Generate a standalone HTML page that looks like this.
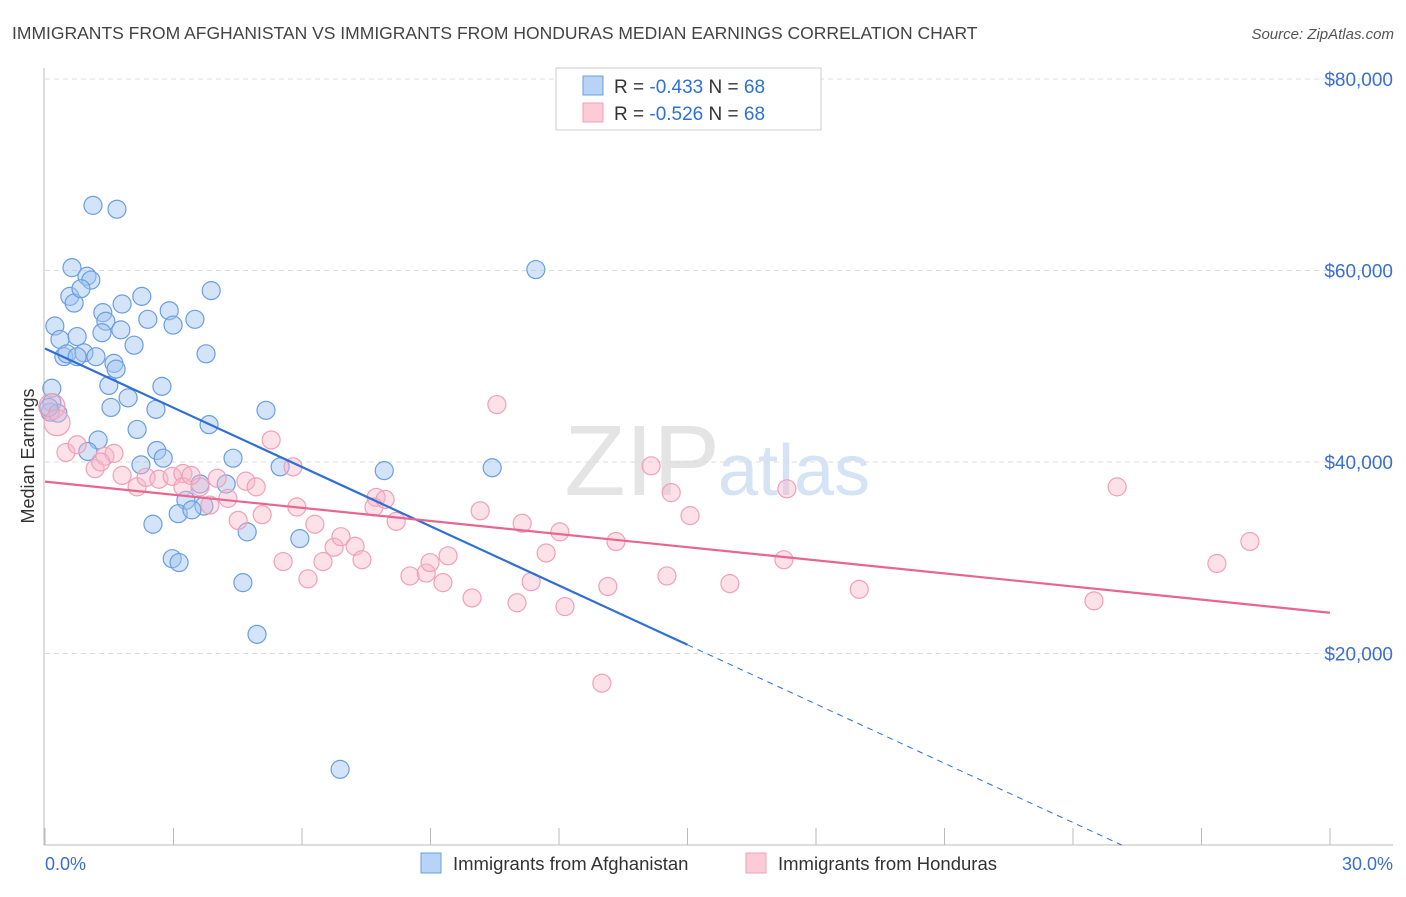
<!DOCTYPE html>
<html><head><meta charset="utf-8"><style>
body{margin:0;background:#fff;font-family:"Liberation Sans",sans-serif}
svg text{font-family:"Liberation Sans",sans-serif}
</style></head><body>
<svg id="c" width="1406" height="892" xmlns="http://www.w3.org/2000/svg">
<text x="12" y="39" font-size="17.5" fill="#444">IMMIGRANTS FROM AFGHANISTAN VS IMMIGRANTS FROM HONDURAS MEDIAN EARNINGS CORRELATION CHART</text>
<text x="1394" y="39" font-size="15" fill="#555" font-style="italic" text-anchor="end">Source: ZipAtlas.com</text>
<text x="720" y="495" font-size="100" fill="#e4e4e4" text-anchor="end" font-family="Liberation Serif">ZIP</text>
<text x="718" y="495" font-size="72" fill="#d5e3f5">atlas</text>
<g id="grid"></g>
<g id="axes"></g>
<g id="pts"></g>
<g id="trend"></g>
<g>
<rect x="556" y="68" width="265" height="62" fill="#fff" stroke="#ccc"/>
<rect x="583" y="76" width="20" height="19" fill="#b8d3f5" stroke="#6a9ee0"/>
<rect x="583" y="103" width="20" height="19" fill="#fbcbd8" stroke="#f0a0b8"/>
<text x="614" y="93" font-size="19" fill="#333">R = <tspan fill="#2f6fd6">-0.433</tspan>    N = <tspan fill="#2f6fd6">68</tspan></text>
<text x="614" y="120" font-size="19" fill="#333">R = <tspan fill="#2f6fd6">-0.526</tspan>    N = <tspan fill="#2f6fd6">68</tspan></text>
</g>
<g>
<rect x="421" y="853" width="20" height="20" fill="#b8d3f5" stroke="#6a9ee0"/>
<text x="453" y="870" font-size="18.5" fill="#333">Immigrants from Afghanistan</text>
<rect x="746" y="853" width="20" height="20" fill="#fbcbd8" stroke="#f0a0b8"/>
<text x="778" y="870" font-size="18.5" fill="#333">Immigrants from Honduras</text>
</g>
<text transform="translate(34,456) rotate(-90)" font-size="18" fill="#333" text-anchor="middle">Median Earnings</text>
<text x="45" y="870" font-size="18" fill="#3a6fd0">0.0%</text>
<text x="1393" y="870" font-size="18" fill="#3a6fd0" text-anchor="end">30.0%</text>
</svg>
<script>
const yTicks=[20000,40000,60000,80000];
const yTickLabels=["$20,000","$40,000","$60,000","$80,000"];
const xTicks=[0,3,6,9,12,15,18,21,24,27,30];
const afgX=[1.12,1.68,0.63,0.98,1.07,0.58,0.68,0.84,2.26,1.80,3.88,1.35,0.23,1.42,1.77,2.40,2.90,2.99,3.50,0.35,1.33,0.75,2.08,0.44,0.51,0.91,0.75,1.19,3.76,1.61,1.66,0.16,1.49,2.73,1.94,1.54,2.59,0.16,0.12,0.30,5.16,3.83,2.15,1.24,2.61,1.00,2.76,4.39,2.24,5.49,7.92,10.44,3.29,3.62,4.23,3.71,3.11,3.43,2.52,4.72,5.95,2.97,3.13,4.62,4.95,6.89,11.46,0.09];
const afgY=[66.8,66.4,60.3,59.4,59.0,57.3,56.6,58.1,57.3,56.5,57.9,55.6,54.2,54.7,53.8,54.9,55.8,54.3,54.9,52.8,53.5,53.1,52.2,51.0,51.3,51.4,51.0,51.0,51.3,50.3,49.7,47.7,48.0,47.9,46.7,45.7,45.5,46.2,45.2,45.1,45.4,43.9,43.4,42.3,41.2,41.1,40.4,40.4,39.7,39.5,39.1,39.4,36.0,37.7,37.7,35.4,34.6,35.0,33.5,32.7,32.0,29.9,29.5,27.4,22.0,7.9,60.1,45.7];
const honX=[0.16,0.28,0.49,0.75,1.17,1.40,1.61,1.80,2.15,2.36,2.66,2.97,3.22,3.22,3.62,4.02,3.85,4.27,4.51,4.69,4.93,5.07,5.28,5.56,5.79,5.88,6.14,6.30,6.49,6.75,6.91,7.24,7.40,7.73,7.68,8.20,8.52,8.90,8.99,9.29,9.41,9.97,10.16,10.55,11.02,11.14,11.35,11.70,12.02,12.14,13.00,13.14,13.33,14.15,14.52,14.62,15.06,15.99,17.25,17.32,19.01,24.49,25.03,27.36,28.13,3.41,7.94,1.30];
const honY=[45.8,44.1,41.0,41.8,39.3,40.6,40.9,38.6,37.4,38.4,38.2,38.5,38.8,37.4,37.4,38.3,35.5,36.2,33.9,38.0,37.4,34.5,42.3,29.6,39.5,35.3,27.8,33.5,29.6,31.1,32.2,31.2,29.8,36.3,35.3,33.8,28.1,28.4,29.5,27.4,30.2,25.8,34.9,46.0,25.3,33.6,27.5,30.5,32.7,24.9,16.9,27.0,31.7,39.6,28.1,36.8,34.4,27.3,29.8,37.2,26.7,25.5,37.4,29.4,31.7,38.6,36.1,40.0];
const afgTrend=[51857,20910]; // at x=0 and x=15
const honTrend=[37951,24256]; // at x=0 and x=30
const NS="http://www.w3.org/2000/svg";
const X=v=>45+v*(1330-45)/30;
const Y=v=>845-v*(845-79)/80000;
function mk(t,a,p){const e=document.createElementNS(NS,t);for(const k in a)e.setAttribute(k,a[k]);document.getElementById(p).appendChild(e);return e;}
yTicks.forEach((t,i)=>{
 const l=mk('line',{x1:45,x2:1393,y1:Y(t),y2:Y(t),stroke:'#ddd','stroke-dasharray':'5,4'},'grid');
 
 
 const tx=mk('text',{x:1393,y:Y(t)+7,'font-size':19,fill:'#3a6fd0','text-anchor':'end'},'grid');
 tx.textContent=yTickLabels[i];
 
 
});
const ax=mk('line',{x1:44,x2:44,y1:68,y2:845,stroke:'#bbb'},'axes');


const bx=mk('line',{x1:44,x2:1393,y1:845,y2:845,stroke:'#bbb'},'axes');


xTicks.forEach(t=>{
 const l=mk('line',{x1:X(t),x2:X(t),y1:828,y2:845,stroke:'#bbb'},'axes');
 
 
});
afgX.forEach((x,i)=>{
 const c=mk('circle',{cx:X(x),cy:Y(afgY[i]*1000),r:9,fill:'rgba(160,196,240,0.45)',stroke:'#6a9ee0','stroke-width':1.2},'pts');
 
 
});
honX.forEach((x,i)=>{
 const c=mk('circle',{cx:X(x),cy:Y(honY[i]*1000),r:(i<2?13:9),fill:'rgba(248,180,200,0.4)',stroke:'#f0a0b8','stroke-width':1.2},'pts');
 
 
});
const slopeA=(afgTrend[1]-afgTrend[0])/15;
const xEnd=-afgTrend[0]/slopeA;
const t1=mk('line',{x1:X(0),y1:Y(afgTrend[0]),x2:X(15),y2:Y(afgTrend[1]),stroke:'#2f6fd6','stroke-width':2.2},'trend');


const t2=mk('line',{x1:X(15),y1:Y(afgTrend[1]),x2:X(xEnd),y2:Y(0),stroke:'#2f6fd6','stroke-width':1,'stroke-dasharray':'6,5'},'trend');


const t3=mk('line',{x1:X(0),y1:Y(honTrend[0]),x2:X(30),y2:Y(honTrend[1]),stroke:'#e8658f','stroke-width':2.2},'trend');


</script>
</body></html>
